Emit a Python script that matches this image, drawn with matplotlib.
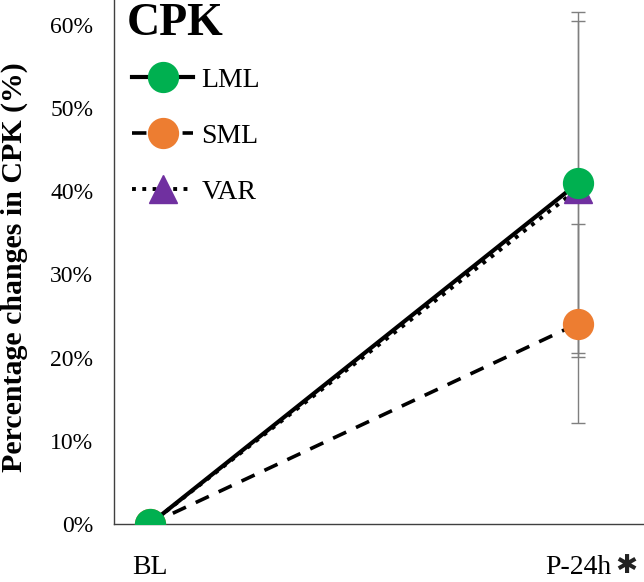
import matplotlib
matplotlib.use('Agg')
import matplotlib.pyplot as plt
from matplotlib.ticker import PercentFormatter

# values (percentage change in CPK)
timepoints = ['BL', 'P-24h']
lml = [0.0, 41.0]
sml = [0.0, 24.1]
var = [0.0, 40.3]
lml_err = [0.0, 20.5]
sml_err = [0.0, 12.0]
var_err = [0.0, 20.2]

plt.rcParams['font.family'] = ['Liberation Serif', 'DejaVu Sans']

fig = plt.figure(figsize=(6.44, 5.82), dpi=100)
ax = fig.add_axes([0.177, 0.0997, 0.823, 0.9003])

x = list(range(len(timepoints)))

# error bars first (grey, thin)
for vals, errs in [(var, var_err), (sml, sml_err), (lml, lml_err)]:
    ax.errorbar(x, vals, yerr=errs, fmt='none', ecolor='#7f7f7f',
                elinewidth=1, capsize=5, capthick=1, zorder=1)

ax.plot(x, var, linestyle=':', color='black', linewidth=2.8, marker='^',
        markersize=20, markerfacecolor='#7030A0', markeredgecolor='#7030A0',
        label='VAR', zorder=2)
ax.plot(x, sml, linestyle=(0, (4, 3)), color='black', linewidth=2.6, marker='o',
        markersize=21.5, markerfacecolor='#ED7D31', markeredgecolor='#ED7D31',
        label='SML', zorder=3)
ax.plot(x, lml, linestyle='-', color='black', linewidth=3, marker='o',
        markersize=21.5, markerfacecolor='#00B050', markeredgecolor='#00B050',
        label='LML', zorder=4)

ax.set_xlim(-0.084, 1.154)
ax.set_ylim(0, 63)
ax.set_yticks([0, 10, 20, 30, 40, 50, 60])
ax.yaxis.set_major_formatter(PercentFormatter(decimals=0))
ax.set_xticks(x)
ax.set_xticklabels(timepoints)
ax.tick_params(axis='y', length=0, labelsize=17, pad=15)
ax.tick_params(axis='x', length=0, labelsize=20, pad=22)

# significance mark next to the P-24h label
ax.annotate('\u2731', xy=(1, 0), xycoords=('data', 'axes fraction'),
            xytext=(27, -21), textcoords='offset points', ha='left', va='top',
            fontsize=19, family='DejaVu Sans', color='#222222',
            annotation_clip=False)

for s in ['top', 'right']:
    ax.spines[s].set_visible(False)
for s in ['left', 'bottom']:
    ax.spines[s].set_color('#404040')
    ax.spines[s].set_linewidth(1)

ax.set_ylabel('Percentage changes in CPK (%)', fontsize=21.5, fontweight='bold')
ax.yaxis.set_label_coords(-0.163, 0.49)

ax.text(0.025, 0.995, 'CPK', transform=ax.transAxes, fontsize=33,
        fontweight='bold', va='top', ha='left')

handles, labels = ax.get_legend_handles_labels()
order = [2, 1, 0]
ax.legend([handles[i] for i in order], [labels[i] for i in order],
          loc='upper left', bbox_to_anchor=(0.034, 0.872), frameon=False,
          borderaxespad=0, borderpad=0,
          fontsize=20, handlelength=2.2, labelspacing=1.1, handletextpad=0.3,
          markerscale=1.0)

fig.savefig('out.png', dpi=100)
